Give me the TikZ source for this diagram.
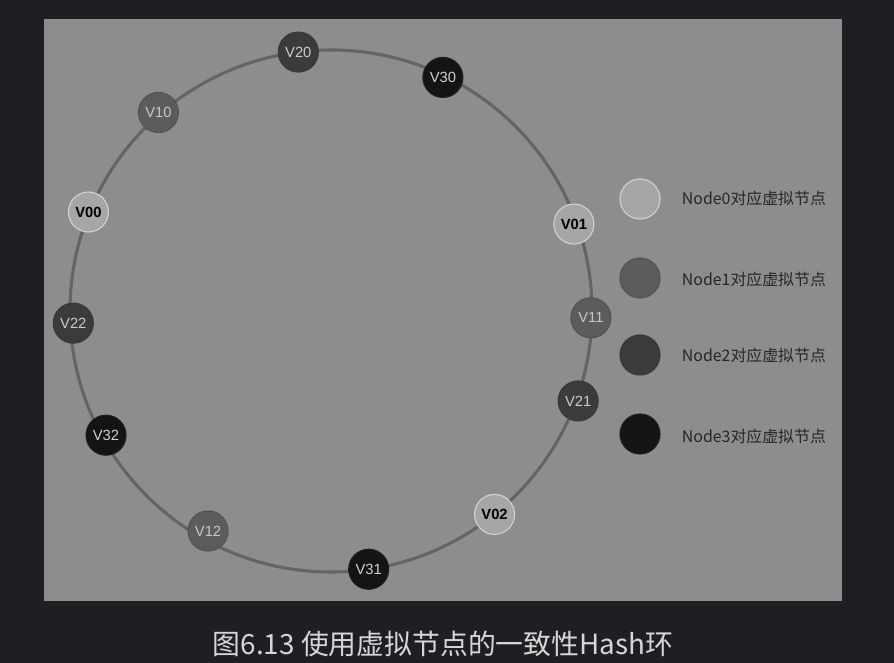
\documentclass[tikz,border=0pt]{standalone}
\usepackage{fontspec}
\setmainfont{Liberation Sans}
\newfontfamily\cjk{Noto Sans CJK SC}
\usetikzlibrary{calc}

\definecolor{pagebg}{HTML}{1E1F22}
\definecolor{panel}{HTML}{8D8D8D}
\definecolor{ringc}{HTML}{646464}
\definecolor{nodezero}{HTML}{A6A6A6}
\definecolor{nodeone}{HTML}{5C5C5C}
\definecolor{nodetwo}{HTML}{3B3B3B}
\definecolor{nodethree}{HTML}{141414}
\definecolor{captext}{HTML}{D6D6D6}

\tikzset{
  vnode/.style={circle, minimum size=1cm, inner sep=0pt, line width=0.8pt,
    font=\fontsize{10.5}{12}\selectfont},
  vzero/.style={vnode, fill=nodezero, draw=black!18, text=black, font=\fontsize{10.5}{12}\selectfont\bfseries},
  vone/.style={vnode, fill=nodeone, draw=black!68, text=black!22},
  vtwo/.style={vnode, fill=nodetwo, draw=black!78, text=black!20},
  vthree/.style={vnode, fill=nodethree, draw=black!88, text=black!18},
  legtext/.style={anchor=west, font=\cjk\fontsize{11.3}{13}\selectfont, text=black!85}
}

\begin{document}
\begin{tikzpicture}[x=0.025cm, y=0.025cm]
		\fill[pagebg] (0,0) rectangle (894,663);
		\fill[panel] (44,62) rectangle (842,644);

		\coordinate (o) at (331,352);
		\draw[ringc, line width=2.2pt] (o) circle (261);

		% virtual nodes on the ring
		\foreach \name/\ang/\rad/\kind in {V20/97.2/261/vtwo, V30/64.4/259/vthree, V10/131/263/vone,
			V00/157.8/262/vzero, V22/182.7/258/vtwo, V32/208.9/257/vthree, V12/240.8/252/vone,
			V31/278.3/261/vthree, V02/308.8/261/vzero, V21/340/263/vtwo, V11/358.5/260/vone, V01/19.7/258/vzero}
			\node[\kind] (\name) at ($(o)+(\ang:\rad)$) {\name};

		% legend
		\node[vzero] (leg0) at (640,464) {};
		\node[vone] (leg1) at (640,385) {};
		\node[vtwo] (leg2) at (640,308) {};
		\node[vthree] (leg3) at (640,229) {};

		\node[legtext] (txt0) at (677,465) {Node0对应虚拟节点};
		\node[legtext] (txt1) at (677,384) {Node1对应虚拟节点};
		\node[legtext] (txt2) at (677,308) {Node2对应虚拟节点};
		\node[legtext] (txt3) at (677,227) {Node3对应虚拟节点};

		\node[text=captext, font=\cjk\fontsize{19.8}{23}\selectfont] (cap) at (443,19) {图6.13 使用虚拟节点的一致性Hash环};
	\end{tikzpicture}
\end{document}
